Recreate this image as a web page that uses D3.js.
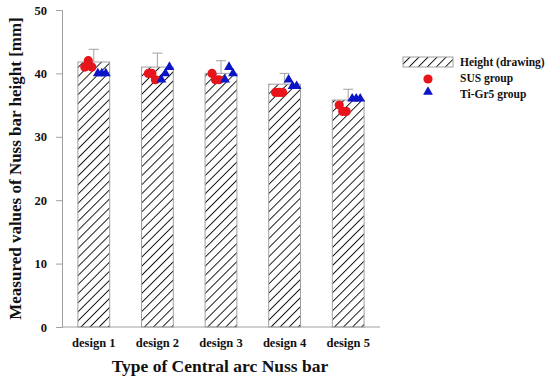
<!DOCTYPE html>
<html>
<head>
<meta charset="utf-8">
<script src="https://cdn.jsdelivr.net/npm/d3@7"></script>
<style>
  body { margin: 0; background: #fff; }
  text { font-family: "Liberation Serif", "Times New Roman", serif; font-weight: bold; }
</style>
</head>
<body>
<div id="container"></div>
<script>
/* DATA */
var designs = ["design 1", "design 2", "design 3", "design 4", "design 5"];
var heightDrawing = [41.8, 41.0, 40.0, 38.3, 35.8];
var heightError = [2.0, 2.2, 2.0, 1.7, 1.7];
var susGroup = [[41.0, 42.0, 41.0], [40.0, 40.0, 39.0], [40.0, 39.0, 39.0], [37.0, 37.0, 37.0], [35.0, 34.0, 34.0]];
var tiGroup = [[40.0, 40.0, 40.0], [39.0, 40.0, 41.0], [39.0, 41.0, 40.0], [39.0, 38.0, 38.0], [36.0, 36.0, 36.0]];
var yTicks = [0, 10, 20, 30, 40, 50];

var width = 550, height = 377;
var plotLeft = 62, plotRight = 380, plotTop = 10, plotBottom = 327;
var grey = "#a0a0a0";

var svg = d3.select("#container").append("svg")
  .attr("width", width)
  .attr("height", height);

// hatch pattern
var defs = svg.append("defs");
defs.append("pattern")
  .attr("id", "hatch")
  .attr("patternUnits", "userSpaceOnUse")
  .attr("width", 6.4).attr("height", 6.4)
  .attr("patternTransform", "rotate(45)")
  .append("line")
  .attr("x1", 0).attr("y1", 0).attr("x2", 0).attr("y2", 6.4)
  .attr("stroke", "#111").attr("stroke-width", 1.9);

/* SCALES */
var x = d3.scaleBand()
  .domain(designs)
  .range([plotLeft, plotRight])
  .paddingInner(0.5)
  .paddingOuter(0.25);

var y = d3.scaleLinear()
  .domain([0, 50])
  .range([plotBottom, plotTop]);

/* AXES */
var yAxis = svg.append("g")
  .attr("transform", "translate(" + plotLeft + ",0)")
  .call(d3.axisLeft(y).tickValues(yTicks).tickSize(6).tickPadding(9));
yAxis.select(".domain").attr("stroke", grey);
yAxis.selectAll(".tick line").attr("stroke", grey);
yAxis.selectAll(".tick text").attr("font-size", 12.5).attr("fill", "#111")
  .style("font-family", "Liberation Serif").style("font-weight", "bold");

svg.append("line")
  .attr("x1", plotLeft).attr("x2", plotRight)
  .attr("y1", plotBottom).attr("y2", plotBottom)
  .attr("stroke", grey);

svg.selectAll(".xlab").data(designs).enter().append("text")
  .attr("class", "xlab")
  .attr("x", function(d) { return x(d) + x.bandwidth() / 2; })
  .attr("y", 347)
  .attr("text-anchor", "middle")
  .attr("font-size", 12.5)
  .attr("fill", "#111")
  .text(function(d) { return d; });

/* BARS */
var barData = designs.map(function(d, i) {
  return { name: d, value: heightDrawing[i], err: heightError[i], sus: susGroup[i], ti: tiGroup[i] };
});

var g = svg.selectAll(".bar").data(barData).enter().append("g").attr("class", "bar");

// error bars
g.append("line")
  .attr("x1", function(d) { return x(d.name) + x.bandwidth() / 2; })
  .attr("x2", function(d) { return x(d.name) + x.bandwidth() / 2; })
  .attr("y1", function(d) { return y(d.value); })
  .attr("y2", function(d) { return y(d.value + d.err); })
  .attr("stroke", grey);
g.append("line")
  .attr("x1", function(d) { return x(d.name) + x.bandwidth() / 2 - 5; })
  .attr("x2", function(d) { return x(d.name) + x.bandwidth() / 2 + 5; })
  .attr("y1", function(d) { return y(d.value + d.err); })
  .attr("y2", function(d) { return y(d.value + d.err); })
  .attr("stroke", grey);

g.append("rect")
  .attr("x", function(d) { return x(d.name); })
  .attr("y", function(d) { return y(d.value); })
  .attr("width", x.bandwidth())
  .attr("height", function(d) { return y(0) - y(d.value); })
  .attr("fill", "url(#hatch)")
  .attr("stroke", grey)
  .attr("stroke-width", 1);

// points: SUS to the left of centre, Ti-Gr5 to the right
g.selectAll(".sus").data(function(d) {
  return d.sus.map(function(v, j) { return { name: d.name, v: v, j: j }; });
}).enter().append("circle")
  .attr("class", "sus")
  .attr("cx", function(d) { return x(d.name) + x.bandwidth() / 2 - 9 + d.j * 3.5; })
  .attr("cy", function(d) { return y(d.v); })
  .attr("r", 4.6)
  .attr("fill", "#e8141b");

var tri = d3.symbol().type(d3.symbolTriangle).size(42);
g.selectAll(".ti").data(function(d) {
  return d.ti.map(function(v, j) { return { name: d.name, v: v, j: j }; });
}).enter().append("path")
  .attr("class", "ti")
  .attr("d", tri)
  .attr("transform", function(d) {
    return "translate(" + (x(d.name) + x.bandwidth() / 2 + 4 + d.j * 4) + "," + y(d.v) + ")";
  })
  .attr("fill", "#0a14c8");

/* TITLES */
svg.append("text")
  .attr("transform", "translate(21," + (plotTop + plotBottom) / 2 + ") rotate(-90)")
  .attr("text-anchor", "middle")
  .attr("font-size", 17)
  .attr("fill", "#111")
  .text("Measured values of Nuss bar height [mm]");

svg.append("text")
  .attr("x", 220)
  .attr("y", 372)
  .attr("text-anchor", "middle")
  .attr("font-size", 17.5)
  .attr("fill", "#111")
  .text("Type of Central arc Nuss bar");

/* LEGEND */
var lg = svg.append("g").attr("transform", "translate(403,0)");
lg.append("rect")
  .attr("x", 0).attr("y", 57).attr("width", 50).attr("height", 10)
  .attr("fill", "url(#hatch)").attr("stroke", grey);
lg.append("circle").attr("cx", 25).attr("cy", 79).attr("r", 4.6).attr("fill", "#e8141b");
lg.append("path").attr("d", tri).attr("transform", "translate(25,92)").attr("fill", "#0a14c8");
var legendLabels = ["Height (drawing)", "SUS group", "Ti-Gr5 group"];
lg.selectAll(".lt").data(legendLabels).enter().append("text")
  .attr("x", 57)
  .attr("y", function(d, i) { return 66 + i * 16; })
  .attr("font-size", 11.5)
  .attr("fill", "#111")
  .text(function(d) { return d; });
</script>
</body>
</html>
